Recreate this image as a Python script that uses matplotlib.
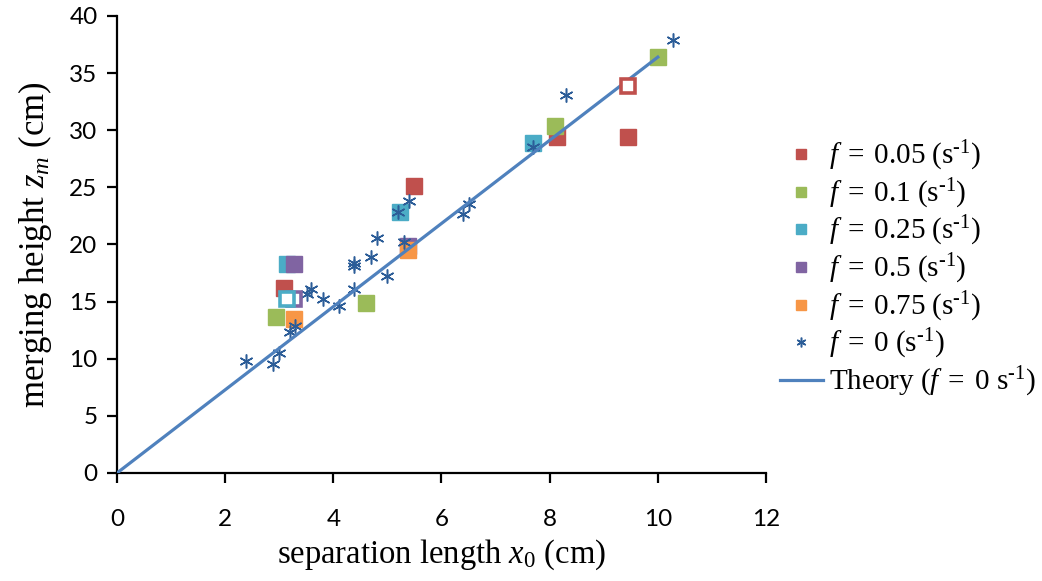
import numpy as np
import matplotlib.pyplot as plt

plt.rcParams['mathtext.fontset'] = 'custom'
plt.rcParams['mathtext.rm'] = 'Liberation Serif'
plt.rcParams['mathtext.it'] = 'Liberation Serif:italic'

# separation length x0 (cm) and merging height zm (cm) for each rotation rate
x_f005 = [3.09, 5.50, 8.13, 9.45]
z_f005 = [16.15, 25.1, 29.4, 29.4]
x_f01 = [2.94, 4.60, 8.10, 10.0]
z_f01 = [13.65, 14.85, 30.35, 36.4]
x_f025 = [3.14, 5.24, 7.70]
z_f025 = [18.3, 22.8, 28.85]
x_f05 = [3.28, 5.38]
z_f05 = [18.3, 19.9]
x_f075 = [3.28, 5.38]
z_f075 = [13.45, 19.5]

# open symbols
x_open = [3.27, 3.15, 9.45]
z_open = [15.25, 15.25, 33.9]

x_f0 = [2.39, 2.89, 3.0, 3.2, 3.3, 3.51, 3.59, 3.8, 4.1, 4.38, 4.39, 4.39,
        4.70, 4.80, 5.0, 5.2, 5.31, 5.40, 6.4, 6.5, 7.70, 8.3, 10.29]
z_f0 = [9.77, 9.5, 10.47, 12.3, 12.86, 15.7, 16.07, 15.25, 14.6, 16.07, 18.35, 18.1,
        18.9, 20.6, 17.2, 22.8, 20.2, 23.8, 22.7, 23.5, 28.55, 33.07, 37.9]

x_theory = [0, 10]
z_theory = [0, 36.4]

red = '#c0504d'
green = '#9bbb59'
cyan = '#4bacc6'
purple = '#8064a2'
orange = '#f79646'
blue = '#4f81bd'
star = '#2c5d98'


def flabel(v):
    return r'$f\;=\;%s\ (\mathrm{s}^{\text{-1}})$' % v


fig = plt.figure(figsize=(10.42, 5.81), dpi=100)
ax = fig.add_axes([0.1123, 0.1859, 0.6228, 0.7866])

ms = 11
ax.plot(x_f005, z_f005, 's', color=red, ms=ms, label=flabel('0.05'), zorder=3)
ax.plot(x_f01, z_f01, 's', color=green, ms=ms, label=flabel('0.1'), zorder=3)
ax.plot(x_f025, z_f025, 's', color=cyan, ms=ms, label=flabel('0.25'), zorder=3)
ax.plot(x_f05, z_f05, 's', color=purple, ms=ms, label=flabel('0.5'), zorder=3)
ax.plot(x_f075, z_f075, 's', color=orange, ms=ms, label=flabel('0.75'), zorder=3)
ax.plot(x_f0, z_f0, ls='none', marker=(6, 2, 0), color=star, ms=10, mew=1.1,
        label=flabel('0'), zorder=4)
ax.plot(x_theory, z_theory, '-', color=blue, lw=2.3,
        label=r'$\mathrm{Theory}\ (f\;=\;0\ \mathrm{s}^{\text{-1}})$', zorder=5)
for xo, zo, c in zip(x_open, z_open, [purple, cyan, red]):
    ax.plot(xo, zo, 's', mfc='white', mec=c, mew=2.6, ms=10, zorder=6)

ax.set_xlim(0, 12)
ax.set_ylim(0, 40)
ax.set_xticks(np.arange(0, 13, 2))
ax.set_yticks(np.arange(0, 41, 5))
for s in ['top', 'right']:
    ax.spines[s].set_visible(False)
for s in ['left', 'bottom']:
    ax.spines[s].set_linewidth(1.6)
ax.tick_params(direction='out', length=7, width=1.6, pad=7)
ax.tick_params(axis='x', pad=19)
for lab in ax.get_xticklabels() + ax.get_yticklabels():
    lab.set_family('Lato')
    lab.set_fontsize(17.5)

ax.set_xlabel(r'separation length $x_0$ (cm)', family='Liberation Serif', fontsize=23.5, labelpad=5)
ax.set_ylabel(r'merging height $z_m$ (cm)', family='Liberation Serif', fontsize=25, labelpad=11)

leg = fig.legend(loc='center left', bbox_to_anchor=(0.737, 0.537), frameon=False,
                 prop={'family': 'Liberation Serif', 'size': 21}, labelspacing=0.12,
                 handlelength=1.5, handletextpad=0.2, markerscale=0.7, borderaxespad=0)

fig.savefig('out.png', dpi=100)
